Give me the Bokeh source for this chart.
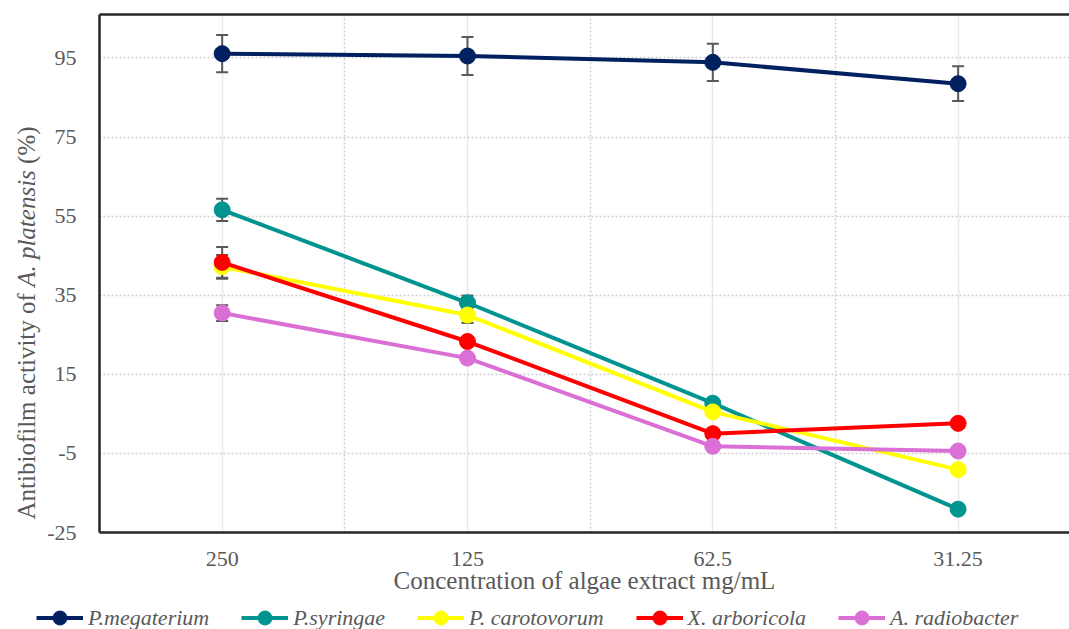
import math
from bokeh.plotting import figure
from bokeh.models import (ColumnDataSource, Whisker, TeeHead, Legend,
                          LegendItem, FixedTicker, LinearAxis, Label)
from bokeh.embed import file_html
from bokeh.resources import INLINE

# ---- data ----
categories = ["250", "125", "62.5", "31.25"]
series_names = ["P.megaterium", "P.syringae", "P. carotovorum", "X. arboricola", "A. radiobacter"]
megaterium = [96.1, 95.5, 93.9, 88.5]
syringae = [56.6, 33.1, 7.7, -19.1]
carotovorum = [42.2, 30.0, 5.5, -9.1]
arboricola = [43.3, 23.3, 0.0, 2.6]
radiobacter = [30.5, 19.1, -3.2, -4.4]
err_megaterium = [4.7, 4.8, 4.7, 4.4]
err_syringae = [2.8, 1.8, 0, 0]
err_carotovorum = [3.0, 2.0, 0, 0]
err_arboricola = [3.9, 0, 0, 0]
err_radiobacter = [2.0, 0, 0, 0]
y_ticks = [-25, -5, 15, 35, 55, 75, 95]
y_title_parts = ["Antibiofilm activity of", "A. platensis", "(%)"]
x_title = "Concentration of algae extract mg/mL"

series_values = [megaterium, syringae, carotovorum, arboricola, radiobacter]
series_errors = [err_megaterium, err_syringae, err_carotovorum, err_arboricola, err_radiobacter]
colors = ["#002060", "#009490", "#FFFF00", "#FF0000", "#DA70D6"]

FONT = "Liberation Serif"
GRAY = "#595959"
DARK = "#262626"
W, H = 1069, 629

# plot-area geometry (pixels) and value extent of the plot area
PL, PR, PT, PB = 99, 1069, 14, 532
X0, X1 = -0.5, 3.454
Y0, Y1 = -25, 106
kx = (PR - PL) / (X1 - X0)
ky = (PB - PT) / (Y1 - Y0)
xr = (X0 - PL / kx, X1 + (W - PR) / kx)
yr = (Y0 - (H - PB) / ky, Y1 + PT / ky)

xs = list(range(len(categories)))

p = figure(width=W, height=H, x_range=xr, y_range=yr,
           output_backend="svg", toolbar_location=None,
           min_border_left=0, min_border_right=0, min_border_top=0,
           min_border_bottom=0)
p.outline_line_color = None
p.background_fill_color = "white"

# axes, drawn at the edges of the plot area
p.xaxis.fixed_location = Y0
p.xaxis.bounds = (X0, X1)
p.yaxis.fixed_location = X0
p.yaxis.bounds = (Y0, Y1)
p.xaxis.ticker = FixedTicker(ticks=xs, minor_ticks=[0.5, 1.5, 2.5])
p.xaxis.major_label_overrides = {i: c for i, c in zip(xs, categories)}
p.yaxis.ticker = FixedTicker(ticks=y_ticks)
p.yaxis.major_label_overrides = {t: str(t) for t in y_ticks}
for ax in (p.xaxis[0], p.yaxis[0]):
    ax.axis_line_color = DARK
    ax.axis_line_width = 2.5
    ax.major_tick_line_color = None
    ax.minor_tick_line_color = None
    ax.major_label_text_font = FONT
    ax.major_label_text_font_size = "22px"
    ax.major_label_text_color = GRAY
p.xaxis.major_label_standoff = 13
p.yaxis.major_label_standoff = 17
p.xaxis.axis_label = x_title
p.xaxis.axis_label_text_font = FONT
p.xaxis.axis_label_text_font_size = "25px"
p.xaxis.axis_label_text_font_style = "normal"
p.xaxis.axis_label_text_color = GRAY
p.xaxis.axis_label_standoff = -2

top = LinearAxis(fixed_location=Y1, bounds=(X0, X1), ticker=FixedTicker(ticks=[]),
                 axis_line_color=DARK, axis_line_width=2.5,
                 major_tick_line_color=None, minor_tick_line_color=None,
                 major_label_text_font_size="0px")
p.add_layout(top, "above")

# grids
p.ygrid.grid_line_color = "#cfcfcf"
p.ygrid.grid_line_dash = "2 2"
p.ygrid.grid_line_width = 1.5
p.ygrid.cross_bounds = (X0, X1)
p.xgrid.grid_line_color = "#e8e8e8"
p.xgrid.grid_line_width = 1.5
p.xgrid.minor_grid_line_color = "#cfcfcf"
p.xgrid.minor_grid_line_dash = "2 2"
p.xgrid.minor_grid_line_width = 1.5
p.xgrid.cross_bounds = (Y0, Y1)

# error bars
for vals, errs in zip(series_values, series_errors):
    bx, up, lo = [], [], []
    for x, v, e in zip(xs, vals, errs):
        if e > 0:
            bx.append(x); up.append(v + e); lo.append(v - e)
    if bx:
        src = ColumnDataSource(dict(x=bx, upper=up, lower=lo))
        w = Whisker(source=src, base="x", upper="upper", lower="lower",
                    line_color=GRAY, line_width=2,
                    upper_head=TeeHead(size=12, line_color=GRAY, line_width=2),
                    lower_head=TeeHead(size=12, line_color=GRAY, line_width=2))
        p.add_layout(w)

items = []
for name, vals, col in zip(series_names, series_values, colors):
    src = ColumnDataSource(dict(x=xs, y=vals))
    lr = p.line("x", "y", source=src, line_color=col, line_width=4)
    sr = p.scatter("x", "y", source=src, marker="circle", size=16,
                   fill_color=col, line_color=col)
    items.append(LegendItem(label=name, renderers=[lr, sr]))

legend = Legend(items=items, orientation="horizontal", location=(36, -6),
                padding=0, margin=0, spacing=32, glyph_width=47, glyph_height=35,
                label_standoff=5, label_text_font=FONT, label_text_font_size="22px",
                label_text_font_style="italic", label_text_color=GRAY,
                border_line_color=None, background_fill_alpha=0)
p.add_layout(legend)

# y-axis title with italic species name
fs = 25
widths = [9.056, 4.667, 1.499]   # em widths of the parts
space = 0.25                     # em width of a space
styles = ["normal", "italic", "normal"]
ypos = H - 519
for txt, w_em, style in zip(y_title_parts, widths, styles):
    p.add_layout(Label(x=26, y=ypos, x_units="screen", y_units="screen", text=txt,
                       angle=math.pi / 2, text_align="left", text_baseline="middle",
                       text_font=FONT, text_font_size=f"{fs}px", text_font_style=style,
                       text_color=GRAY))
    ypos += (w_em + space) * fs

open("out.html", "w").write(file_html(p, INLINE))
